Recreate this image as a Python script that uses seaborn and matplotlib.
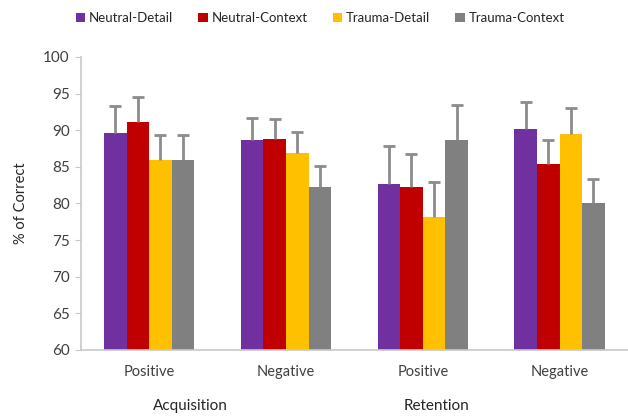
import numpy as np
import pandas as pd
import matplotlib
matplotlib.use("Agg")
import matplotlib.pyplot as plt
import matplotlib.transforms as mtransforms
import seaborn as sns

# data
conditions = ["Acq-Positive", "Acq-Negative", "Ret-Positive", "Ret-Negative"]
tick_labels = ["Positive", "Negative", "Positive", "Negative"]
groups = ["Neutral-Detail", "Neutral-Context", "Trauma-Detail", "Trauma-Context"]

neutral_detail = [89.6, 88.6, 82.7, 90.2]
neutral_context = [91.1, 88.8, 82.3, 85.4]
trauma_detail = [85.9, 86.9, 78.1, 89.5]
trauma_context = [85.9, 82.3, 88.7, 80.0]

neutral_detail_err = [3.7, 3.1, 5.2, 3.6]
neutral_context_err = [3.4, 2.7, 4.5, 3.2]
trauma_detail_err = [3.4, 2.8, 4.8, 3.5]
trauma_context_err = [3.4, 2.8, 4.8, 3.4]

colors = ["#7030A0", "#C00000", "#FFC000", "#808080"]

values = [neutral_detail, neutral_context, trauma_detail, trauma_context]
errors = [neutral_detail_err, neutral_context_err, trauma_detail_err, trauma_context_err]

rows = []
for g, vals in zip(groups, values):
    for c, v in zip(conditions, vals):
        rows.append({"cond": c, "group": g, "pct": v})
df = pd.DataFrame(rows)

sns.set_style("white")
plt.rcParams["font.family"] = ["Lato", "DejaVu Sans"]

fig = plt.figure(figsize=(6.28, 4.16), dpi=100)
ax = fig.add_axes([0.1285, 0.1587, 0.8715, 0.7043])

sns.barplot(data=df, x="cond", y="pct", hue="group", order=conditions,
            hue_order=groups, palette=colors, width=0.66, gap=0,
            errorbar=None, saturation=1, ax=ax, linewidth=0)

# upper-only error bars with a cap at the top end
for cont, err in zip(ax.containers, errors):
    xs = np.array([b.get_x() + b.get_width() / 2 for b in cont])
    ys = np.array([b.get_height() for b in cont])
    tops = ys + np.array(err)
    ax.vlines(xs, ys, tops, color="#8c8c8c", linewidth=2, zorder=3)
    ax.plot(xs, tops, ls="none", marker="_", ms=8, mew=2, color="#8c8c8c", zorder=3)

ax.set_ylim(60, 100)
ax.set_xlim(-0.5, 3.5)
ax.set_yticks(np.arange(60, 101, 5))
ax.set_xticks(range(4))
ax.set_xticklabels(tick_labels)
ax.set_xlabel("")
ax.set_ylabel("% of Correct", fontsize=10.5, color="#262626", labelpad=11)

for s in ["top", "right"]:
    ax.spines[s].set_visible(False)
for s in ["left", "bottom"]:
    ax.spines[s].set_color("#c8c8c8")
    ax.spines[s].set_linewidth(1.2)
ax.tick_params(axis="y", left=True, length=4, color="#c8c8c8", labelsize=11,
               labelcolor="#404040", pad=4)
ax.tick_params(axis="x", bottom=False, labelsize=10.5, labelcolor="#404040", pad=7)

trans = mtransforms.blended_transform_factory(ax.transData, fig.transFigure)
ax.text(0.30, 0.025, "Acquisition", transform=trans, ha="center", va="center",
        fontsize=11, color="#262626")
ax.text(2.10, 0.025, "Retention", transform=trans, ha="center", va="center",
        fontsize=11, color="#262626")

ax.legend(loc="center", bbox_to_anchor=(0.51, 0.957), bbox_transform=fig.transFigure,
          ncol=4, frameon=False, fontsize=9.5, handlelength=0.7, handleheight=0.7,
          handletextpad=0.3, columnspacing=1.9, labelcolor="#262626")

fig.savefig("out.png", dpi=100)
